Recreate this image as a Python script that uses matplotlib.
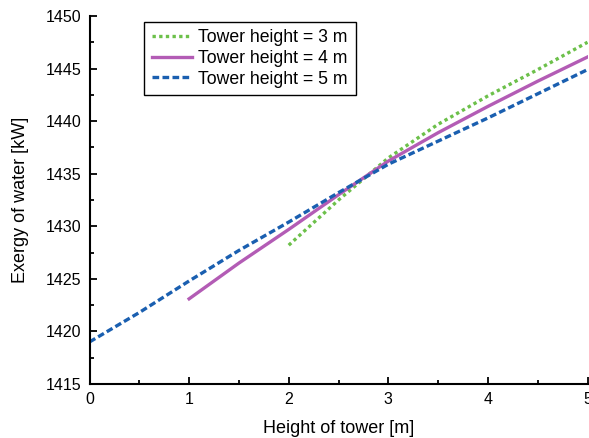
import matplotlib
matplotlib.use("Agg")
import matplotlib.pyplot as plt
from matplotlib.ticker import MultipleLocator

plt.rcParams['font.family'] = ['Liberation Sans', 'DejaVu Sans']

x3 = [2.0, 2.5, 3.0, 3.5, 4.0, 4.5, 5.0]
y3 = [1428.2, 1432.5, 1436.5, 1439.7, 1442.4, 1444.9, 1447.5]
x4 = [1.0, 1.5, 2.0, 2.5, 3.0, 3.5, 4.0, 4.5, 5.0]
y4 = [1423.1, 1426.5, 1429.7, 1433.0, 1436.2, 1438.9, 1441.4, 1443.8, 1446.1]
x5 = [0.0, 0.5, 1.0, 1.5, 2.0, 2.5, 3.0, 3.5, 4.0, 4.5, 5.0]
y5 = [1419.0, 1421.8, 1424.8, 1427.7, 1430.4, 1433.2, 1435.9, 1438.1, 1440.3, 1442.6, 1444.9]
labels = ["Tower height = 3 m", "Tower height = 4 m", "Tower height = 5 m"]

fig = plt.figure(figsize=(5.89, 4.38), dpi=100)
ax = fig.add_axes([0.152, 0.1233, 0.8455, 0.8402])

ax.plot(x3, y3, color='#6cc04a', lw=2.4, ls=(0, (1, 1)), label=labels[0])
ax.plot(x4, y4, color='#b35cb5', lw=2.4, ls='-', label=labels[1])
ax.plot(x5, y5, color='#1a5fb0', lw=2.4, ls=(0, (2.0, 1.0)), label=labels[2])

ax.set_xlim(0, 5)
ax.set_ylim(1415, 1450)
ax.xaxis.set_major_locator(MultipleLocator(1))
ax.xaxis.set_minor_locator(MultipleLocator(0.5))
ax.yaxis.set_major_locator(MultipleLocator(5))
ax.yaxis.set_minor_locator(MultipleLocator(2.5))
ax.tick_params(which='both', direction='in', labelsize=11.5, width=1.3)
ax.tick_params(which='major', length=5, pad=6)
ax.tick_params(which='minor', length=3)
for s in ['top', 'right']:
    ax.spines[s].set_visible(False)
for s in ['left', 'bottom']:
    ax.spines[s].set_linewidth(1.5)

ax.set_xlabel("Height of tower [m]", fontsize=13, labelpad=9)
ax.set_ylabel("Exergy of water [kW]", fontsize=13, labelpad=12)

leg = ax.legend(loc='upper left', bbox_to_anchor=(0.109, 0.985), borderaxespad=0,
                fontsize=12.7, frameon=True, fancybox=False, edgecolor='black',
                handlelength=2.3, handletextpad=0.35, borderpad=0.45,
                labelspacing=0.2, framealpha=1)
leg.get_frame().set_linewidth(1.0)

fig.savefig("out.png", dpi=100)
